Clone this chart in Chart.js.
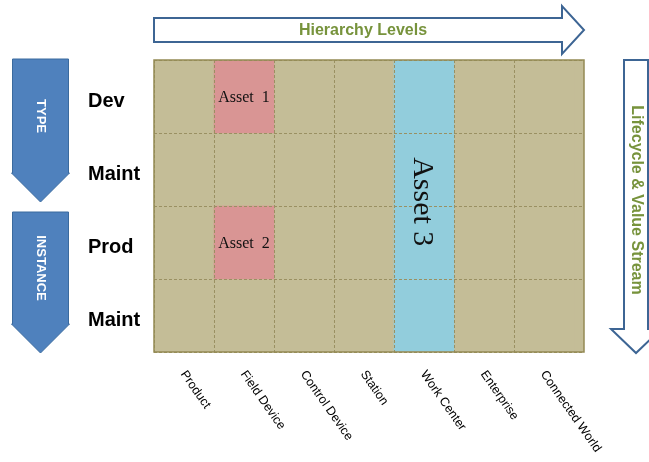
<!DOCTYPE html>
<html>
<head>
<meta charset="utf-8">
<script src="https://cdn.jsdelivr.net/npm/chart.js@4.4.1/dist/chart.umd.min.js"></script>
<style>
  html, body { margin: 0; padding: 0; background: #fff; }
  canvas { display: block; }
</style>
</head>
<body>
<canvas id="myChart" width="649" height="462"></canvas>
<script>
// hierarchy levels (columns, left to right)
var levels = ['Product', 'Field Device', 'Control Device', 'Station', 'Work Center', 'Enterprise', 'Connected World'];
// lifecycle stages (rows, top to bottom)
var stages = ['Dev', 'Maint', 'Prod', 'Maint'];
// the two lifecycle phases, each covering two stages
var phases = ['TYPE', 'INSTANCE'];
var xTitle = 'Hierarchy Levels';
var yTitle = 'Lifecycle & Value Stream';

// assets placed in the grid: level, first stage, last stage (indexes into stages)
var assetNames = ['Asset 1', 'Asset 2', 'Asset 3'];
var assetLevels = ['Field Device', 'Field Device', 'Work Center'];
var assetFirst = [0, 2, 0];
var assetLast = [0, 2, 3];

var tan = '#C4BD97';
var olive = '#9A9062';

function rowSpan(first, last) {
    // y runs bottom up: top row is stages.length
    return [stages.length - 1 - last, stages.length - first];
}

function arrowRight(ctx, x0, xh, xt, cy, bh, hh) {
    ctx.beginPath();
    ctx.moveTo(x0, cy - bh);
    ctx.lineTo(xh, cy - bh);
    ctx.lineTo(xh, cy - hh);
    ctx.lineTo(xt, cy);
    ctx.lineTo(xh, cy + hh);
    ctx.lineTo(xh, cy + bh);
    ctx.lineTo(x0, cy + bh);
    ctx.closePath();
}

function arrowDown(ctx, cx, y0, yh, yt, bw, hw) {
    ctx.beginPath();
    ctx.moveTo(cx - bw, y0);
    ctx.lineTo(cx + bw, y0);
    ctx.lineTo(cx + bw, yh);
    ctx.lineTo(cx + hw, yh);
    ctx.lineTo(cx, yt);
    ctx.lineTo(cx - hw, yh);
    ctx.lineTo(cx - bw, yh);
    ctx.closePath();
}

var decor = {
    id: 'decor',
    beforeDatasetsDraw: function(chart) {
        var a = chart.chartArea, ctx = chart.ctx;
        ctx.save();
        ctx.fillStyle = tan;
        ctx.fillRect(a.left, a.top, a.right - a.left, a.bottom - a.top);
        ctx.restore();
    },
    afterDraw: function(chart) {
        var ctx = chart.ctx, a = chart.chartArea;
        var xs = chart.scales.x, ys = chart.scales.y;
        ctx.save();

        // outer frame of the grid
        ctx.strokeStyle = '#948A54';
        ctx.lineWidth = 1.5;
        ctx.strokeRect(a.left, a.top, a.right - a.left, a.bottom - a.top);

        // asset names
        var meta = chart.getDatasetMeta(1);
        meta.data.forEach(function(bar, i) {
            var p = bar.getCenterPoint();
            var tall = bar.height > 2 * bar.width;
            ctx.save();
            ctx.fillStyle = '#111';
            ctx.textAlign = 'center';
            ctx.textBaseline = 'middle';
            ctx.translate(p.x, p.y);
            if (tall) {
                ctx.rotate(Math.PI / 2);
                ctx.font = '30px "Liberation Serif"';
                ctx.fillText(assetNames[i], -4, 2);
            } else {
                ctx.font = '16px "Liberation Serif"';
                ctx.fillText(assetNames[i].replace(' ', '  '), 0, 1);
            }
            ctx.restore();
        });

        // stage labels on the left
        ctx.fillStyle = '#000';
        ctx.font = 'bold 20px "Liberation Sans"';
        ctx.textAlign = 'left';
        ctx.textBaseline = 'middle';
        stages.forEach(function(s, i) {
            var y = ys.getPixelForValue(stages.length - i - 0.5);
            ctx.fillText(s, 88, y + 5);
        });

        // level labels, slanted below the grid
        ctx.fillStyle = '#000';
        ctx.font = '12.5px "Liberation Sans"';
        levels.forEach(function(l, i) {
            var x = xs.getPixelForValue(i + 0.5);
            ctx.save();
            ctx.translate(x - 1, a.bottom + 20);
            ctx.rotate(55 * Math.PI / 180);
            ctx.fillText(l, 0, 0);
            ctx.restore();
        });

        // TYPE / INSTANCE arrows
        phases.forEach(function(ph, i) {
            var top = ys.getPixelForValue(stages.length - 2 * i);
            var bot = ys.getPixelForValue(stages.length - 2 * i - 2);
            var y0 = top + (i === 0 ? -1 : 6);
            var yt = bot + (i === 0 ? -4 : 1);
            var yh = yt - 29;
            ctx.fillStyle = '#4F81BD';
            ctx.strokeStyle = '#3A6A9E';
            ctx.lineWidth = 1;
            arrowDown(ctx, 40.5, y0, yh, yt, 28, 29);
            ctx.fill();
            ctx.stroke();
            ctx.save();
            ctx.translate(40.5, (y0 + yh) / 2);
            ctx.rotate(Math.PI / 2);
            ctx.fillStyle = '#fff';
            ctx.font = 'bold 13px "Liberation Sans"';
            ctx.textAlign = 'center';
            ctx.textBaseline = 'middle';
            ctx.fillText(ph, 0, 0);
            ctx.restore();
        });

        // hierarchy levels arrow along the top
        ctx.fillStyle = '#fff';
        ctx.strokeStyle = '#3D6594';
        ctx.lineWidth = 2;
        arrowRight(ctx, a.left, a.right - 22, a.right, 30, 12, 24);
        ctx.fill();
        ctx.stroke();
        ctx.fillStyle = '#77933C';
        ctx.font = 'bold 16px "Liberation Sans"';
        ctx.textAlign = 'center';
        ctx.textBaseline = 'middle';
        ctx.fillText(xTitle, 363, 31);

        // lifecycle arrow down the right side
        ctx.fillStyle = '#fff';
        arrowDown(ctx, 636, a.top, a.bottom - 23, a.bottom + 1, 12, 25);
        ctx.fill();
        ctx.stroke();
        ctx.save();
        ctx.translate(636, 200);
        ctx.rotate(Math.PI / 2);
        ctx.fillStyle = '#77933C';
        ctx.fillText(yTitle, 0, 0);
        ctx.restore();

        ctx.restore();
    }
};

var ctx = document.getElementById('myChart').getContext('2d');
var chart = new Chart(ctx, {
    type: 'bar',
    data: {
        datasets: [{
            // plain cells of the grid
            data: levels.map(function(l, i) { return { x: i + 0.5, y: [0, stages.length] }; }),
            backgroundColor: tan,
            borderWidth: 0,
            grouped: false,
            barPercentage: 1,
            categoryPercentage: 1,
            order: 2
        }, {
            data: assetNames.map(function(n, i) {
                return { x: levels.indexOf(assetLevels[i]) + 0.5, y: rowSpan(assetFirst[i], assetLast[i]) };
            }),
            backgroundColor: ['#D99594', '#D99594', '#92CDDC'],
            borderWidth: 0,
            grouped: false,
            barPercentage: 1,
            categoryPercentage: 1,
            order: 1
        }]
    },
    options: {
        responsive: false,
        animation: false,
        layout: { padding: { left: 154, right: 65, top: 60, bottom: 110 } },
        plugins: { legend: { display: false }, tooltip: { enabled: false } },
        scales: {
            x: {
                type: 'linear',
                min: 0,
                max: levels.length + 1 / 6,
                offset: false,
                afterBuildTicks: function(s) {
                    // one grid line per column boundary, the last column runs to the frame
                    s.ticks = levels.map(function(l, i) { return { value: i }; });
                },
                ticks: { display: false },
                grid: { offset: false, color: olive, lineWidth: 1, drawTicks: false, z: 1 },
                border: { display: false, dash: [3, 2] }
            },
            y: {
                min: 0,
                max: stages.length,
                ticks: { display: false, stepSize: 1 },
                grid: { color: olive, lineWidth: 1, drawTicks: false, z: 1 },
                border: { display: false, dash: [3, 2] }
            }
        }
    },
    plugins: [decor]
});
</script>
</body>
</html>
